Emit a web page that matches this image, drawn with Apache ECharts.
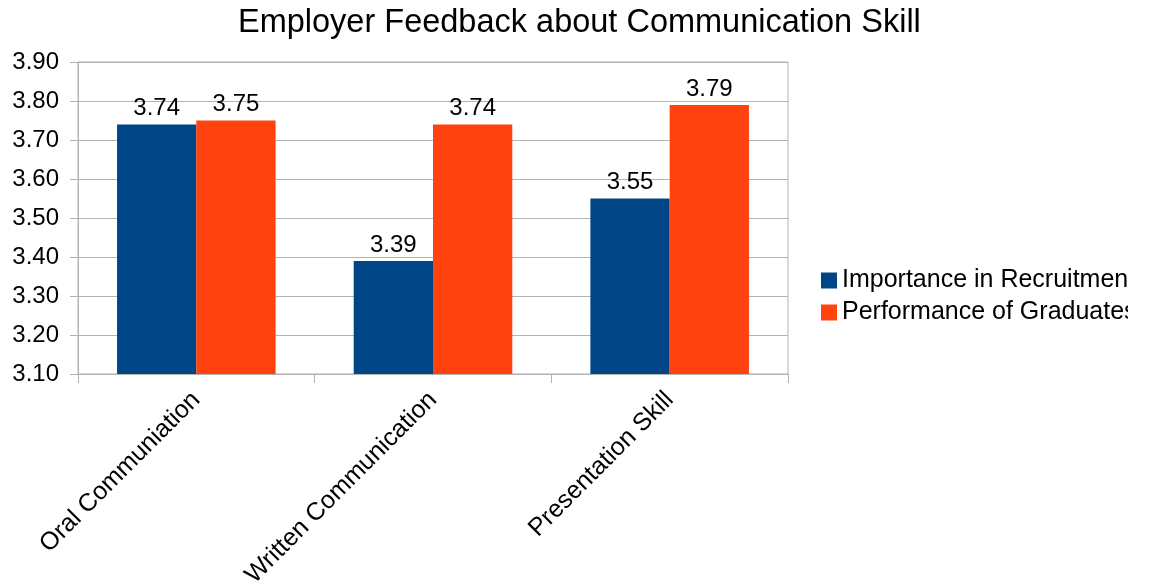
<!DOCTYPE html>
<html>
<head>
<meta charset="utf-8">
<script src="https://cdn.jsdelivr.net/npm/echarts@6/dist/echarts.min.js"></script>
<style>
  html, body { margin: 0; padding: 0; background: #fff; }
  #chart { width: 1128px; height: 586px; overflow: hidden; }
</style>
</head>
<body>
<div id="chart"></div>
<script>
// skills rated by employers
const categories = ["Oral Communiation", "Written Communication", "Presentation Skill"];
const importance = [3.74, 3.39, 3.55];
const performance = [3.75, 3.74, 3.79];
const seriesNames = ["Importance in Recruitment", "Performance of Graduates"];

const chart = echarts.init(document.getElementById("chart"));
const font = "'Liberation Sans', Arial, sans-serif";
const gray = "#b3b3b3";

const barLabel = {
  show: true,
  position: "top",
  distance: 4,
  color: "#000",
  fontFamily: font,
  fontSize: 24,
  formatter: (p) => p.value.toFixed(2),
};

chart.setOption({
  animation: false,
  backgroundColor: "#fff",
  title: {
    text: "Employer Feedback about Communication Skill",
    left: 233,
    top: 2,
    textStyle: { fontFamily: font, fontSize: 32.5, fontWeight: "normal", color: "#000" },
  },
  grid: {
    left: 78,
    right: 340,
    top: 62,
    bottom: 212,
    // keep the plot fixed even though rotated labels reach the bottom edge
    outerBoundsMode: "none",
    show: true,
    borderColor: gray,
    borderWidth: 1,
  },
  legend: {
    orient: "vertical",
    left: 816,
    top: 263,
    itemWidth: 16,
    itemHeight: 16,
    itemGap: 7,
    icon: "rect",
    textStyle: { fontFamily: font, fontSize: 25, color: "#000", lineHeight: 24 },
    data: seriesNames,
  },
  xAxis: {
    type: "category",
    data: categories,
    axisLine: { lineStyle: { color: gray } },
    axisTick: { show: true, length: 9, lineStyle: { color: gray } },
    axisLabel: {
      rotate: 45,
      margin: 22,
      color: "#000",
      fontFamily: font,
      fontSize: 25,
    },
  },
  yAxis: {
    type: "value",
    min: 3.1,
    max: 3.9,
    interval: 0.1,
    axisLine: { show: true, lineStyle: { color: gray } },
    axisTick: { show: true, length: 8, lineStyle: { color: gray } },
    splitLine: { lineStyle: { color: gray } },
    axisLabel: {
      margin: 19,
      color: "#000",
      fontFamily: font,
      fontSize: 24,
      formatter: (v) => v.toFixed(2),
    },
  },
  series: [
    {
      name: seriesNames[0],
      type: "bar",
      data: importance,
      barGap: "0%",
      barCategoryGap: "33%",
      itemStyle: { color: "#004586" },
      label: barLabel,
    },
    {
      name: seriesNames[1],
      type: "bar",
      data: performance,
      itemStyle: { color: "#ff420e" },
      label: barLabel,
    },
  ],
});
</script>
</body>
</html>
